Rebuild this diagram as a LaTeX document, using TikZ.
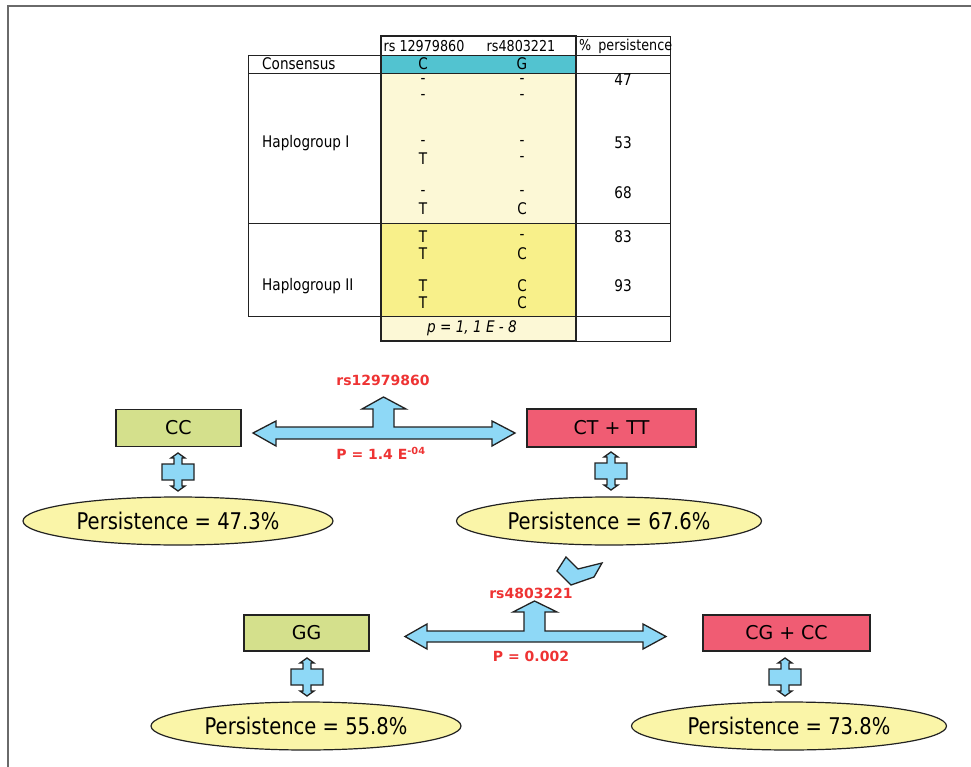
\documentclass[tikz,border=0pt]{standalone}
\usepackage{fontspec}
\setmainfont[FakeStretch=0.85]{DejaVu Sans}
\newfontfamily\widefont{DejaVu Sans}
\usetikzlibrary{shapes.geometric}
\definecolor{frameg}{HTML}{6A6A6A}
\definecolor{tealc}{HTML}{52C3D0}
\definecolor{hapone}{HTML}{FCF8D6}
\definecolor{haptwo}{HTML}{F8F08A}
\definecolor{arrowblue}{HTML}{8ED8F6}
\definecolor{boxgreen}{HTML}{D4E08C}
\definecolor{boxpink}{HTML}{F05C73}
\definecolor{ellfill}{HTML}{FAF5A8}
\definecolor{redtxt}{HTML}{EE3333}
\definecolor{ink}{HTML}{222222}
\tikzset{
  tline/.style={draw=ink, line width=0.9pt},
  tmid/.style={draw=ink, line width=1.6pt},
  ttext/.style={inner sep=0pt, font=\fontsize{16}{18}\selectfont},
  htext/.style={inner sep=0pt, font=\fontsize{15}{17}\selectfont},
  genobox/.style={draw=ink, line width=1.4pt, inner sep=0pt, font=\widefont\fontsize{19}{22}\selectfont},
  persell/.style={ellipse, draw=ink, line width=1.2pt, fill=ellfill, inner sep=0pt, minimum height=48pt, font=\fontsize{23}{27}\selectfont},
  redlabel/.style={inner sep=0pt, text=redtxt, font=\widefont\bfseries\fontsize{14}{16}\selectfont},
  blueshape/.style={draw=ink, line width=1.3pt, fill=arrowblue, line join=miter},
}
\newcommand{\smallud}[2]{%
  \draw[blueshape] (#1+0,#2-19) -- (#1+7,#2-14) -- (#1+4,#2-14) -- (#1+4,#2-8) -- (#1+16,#2-8) -- (#1+16,#2+8) -- (#1+4,#2+8) -- (#1+4,#2+14) -- (#1+7,#2+14) -- (#1+0,#2+19) -- (#1-7,#2+14) -- (#1-4,#2+14) -- (#1-4,#2+8) -- (#1-16,#2+8) -- (#1-16,#2-8) -- (#1-4,#2-8) -- (#1-4,#2-14) -- (#1-7,#2-14) -- cycle;}
\begin{document}
\begin{tikzpicture}[x=1pt,y=-1pt]
\useasboundingbox (0,0) rectangle (971,767);
% frame
\draw[frameg, line width=2pt] (8,767) -- (8,6) -- (971,6);
% table fills
\fill[tealc] (381,55) rectangle (576,73);
\fill[hapone] (381,73) rectangle (576,223);
\fill[haptwo] (381,223) rectangle (576,316);
\fill[hapone] (381,316) rectangle (576,341);
% table lines
\draw[tline] (248,55) -- (670,55);
\draw[tline] (248,73) -- (670,73);
\draw[tline] (248,223) -- (670,223);
\draw[tline] (248,316) -- (670,316);
\draw[tline] (248,55) -- (248,316);
\draw[tline] (381,36) -- (670,36) -- (670,341) -- (576,341);
\draw[tmid] (381,36) rectangle (576,341);
% header
\node[htext] (h1) at (424,46) {rs 12979860};
\node[htext] (h2) at (521,46) {rs4803221};
\node[htext, anchor=west] (h3) at (579,46) {\%\hspace{7pt}persistence};
% consensus
\node[ttext, anchor=west] (cons) at (262,64) {Consensus};
\node[ttext] (c1) at (423,64) {C};
\node[ttext] (c2) at (522,64) {G};
% haplogroup labels
\node[ttext, anchor=west] (hg1) at (262,143) {Haplogroup I};
\node[ttext, anchor=west] (hg2) at (262,286) {Haplogroup II};
% rows
\node[ttext] (r1a) at (423,81) {-};   \node[ttext] (r1b) at (522,81) {-};
\node[ttext] (r2a) at (423,97) {-};   \node[ttext] (r2b) at (522,97) {-};
\node[ttext] (r3a) at (423,143) {-};  \node[ttext] (r3b) at (522,143) {-};
\node[ttext] (r4a) at (423,159) {T};  \node[ttext] (r4b) at (522,159) {-};
\node[ttext] (r5a) at (423,193) {-};  \node[ttext] (r5b) at (522,193) {-};
\node[ttext] (r6a) at (423,209) {T};  \node[ttext] (r6b) at (522,209) {C};
\node[ttext] (r7a) at (423,237) {T};  \node[ttext] (r7b) at (522,237) {-};
\node[ttext] (r8a) at (423,254) {T};  \node[ttext] (r8b) at (522,254) {C};
\node[ttext] (r9a) at (423,286) {T};  \node[ttext] (r9b) at (522,286) {C};
\node[ttext] (r10a) at (423,303) {T}; \node[ttext] (r10b) at (522,303) {C};
% percentages
\node[ttext] (p47) at (623,80) {47};
\node[ttext] (p53) at (623,143) {53};
\node[ttext] (p68) at (623,193) {68};
\node[ttext] (p83) at (623,237) {83};
\node[ttext] (p93) at (623,286) {93};
\node[ttext] (pval) at (472,328) {\itshape p = 1, 1 E - 8};
% genotype boxes
\node[genobox, fill=boxgreen, minimum width=125pt, minimum height=37pt] (cc) at (178.5,428) {CC};
\node[genobox, fill=boxpink, minimum width=169pt, minimum height=38pt] (cttt) at (611.5,428) {CT + TT};
\node[genobox, fill=boxgreen, minimum width=125pt, minimum height=36pt] (gg) at (306.5,633) {GG};
\node[genobox, fill=boxpink, minimum width=167pt, minimum height=36pt] (cgcc) at (786.5,633) {CG + CC};
% ellipses
\node[persell, minimum width=310pt] (e1) at (178,521) {Persistence = 47.3\%};
\node[persell, minimum width=305pt] (e2) at (609,521) {Persistence = 67.6\%};
\node[persell, minimum width=310pt] (e3) at (306,726) {Persistence = 55.8\%};
\node[persell, minimum width=315pt] (e4) at (789,726) {Persistence = 73.8\%};
% small up-down arrows
\smallud{178}{472}
\smallud{611}{471}
\smallud{307}{677}
\smallud{785}{677}
% big upper arrow
\draw[blueshape] (253,433) -- (276,421) -- (276,427) -- (373,427) -- (373,409) -- (362,409) -- (383.5,397) -- (406,409) -- (394,409) -- (394,427) -- (492,427) -- (492,421) -- (515,433) -- (492,446) -- (492,439) -- (276,439) -- (276,446) -- cycle;
\node[redlabel] (rs1) at (383,380) {rs12979860};
\node[redlabel] (pv1) at (381,453) {P = 1.4 E\textsuperscript{-04}};
% chevron
\draw[blueshape] (566,557) -- (578,569) -- (602,563) -- (594,577) -- (571,585) -- (557,571) -- cycle;
% big lower arrow
\draw[blueshape] (405,636.5) -- (427,624) -- (427,631) -- (524,631) -- (524,612) -- (513,612) -- (534.5,601) -- (557,612) -- (545,612) -- (545,631) -- (643,631) -- (643,624) -- (666,636.5) -- (643,649) -- (643,642) -- (427,642) -- (427,649) -- cycle;
\node[redlabel] (rs2) at (531,593) {rs4803221};
\node[redlabel] (pv2) at (531,656) {P = 0.002};
\end{tikzpicture}
\end{document}
